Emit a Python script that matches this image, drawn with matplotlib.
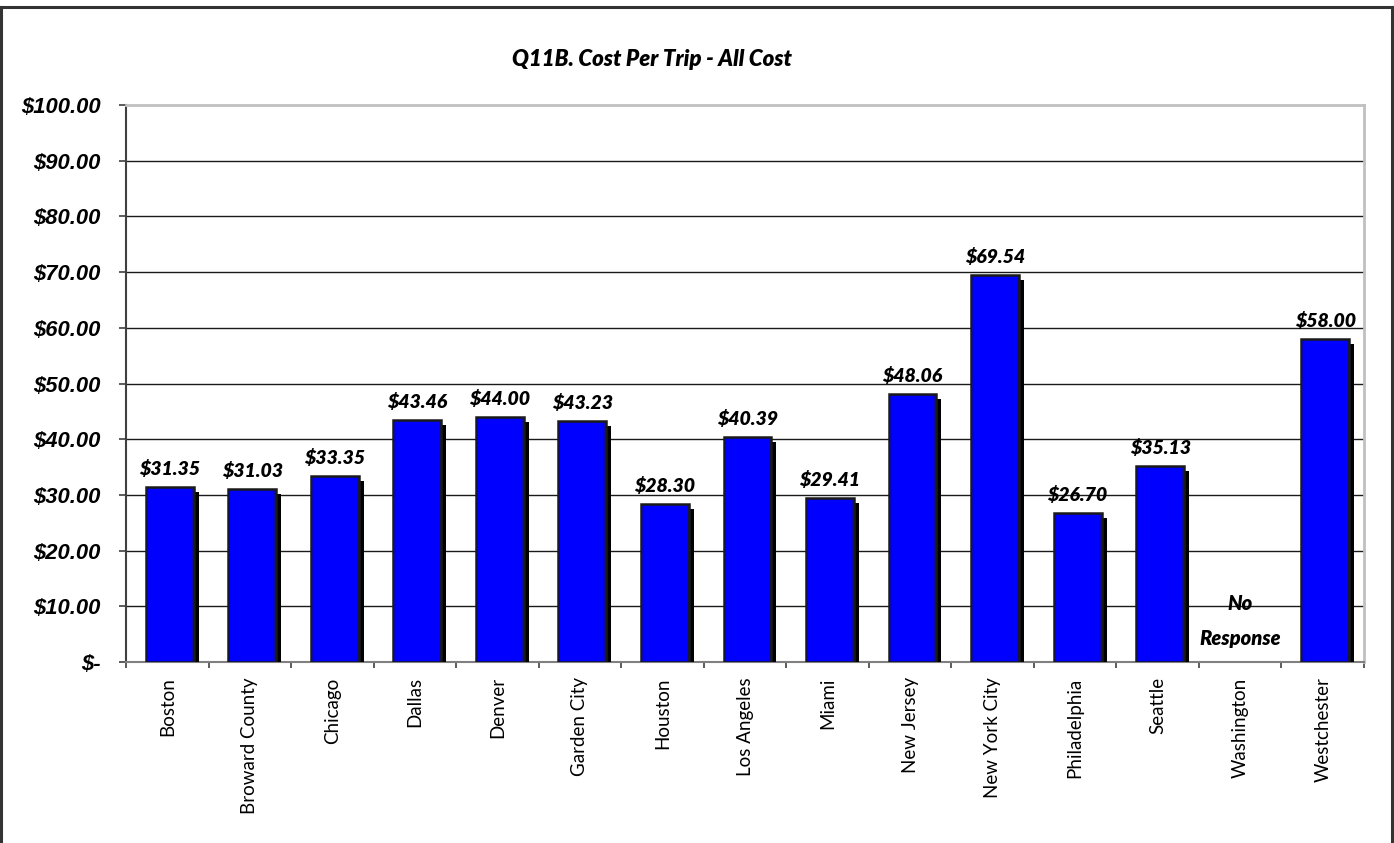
import matplotlib
matplotlib.use("Agg")
import matplotlib.pyplot as plt
import matplotlib.patheffects as pe
from matplotlib.lines import Line2D
import numpy as np

categories = ["Boston", "Broward County", "Chicago", "Dallas", "Denver", "Garden City",
              "Houston", "Los Angeles", "Miami", "New Jersey", "New York City",
              "Philadelphia", "Seattle", "Washington", "Westchester"]
values = [31.35, 31.03, 33.35, 43.46, 44.00, 43.23, 28.30, 40.39, 29.41, 48.06,
          69.54, 26.70, 35.13, None, 58.00]
yticks = [0, 10, 20, 30, 40, 50, 60, 70, 80, 90, 100]
ytick_labels = ["$-", "$10.00", "$20.00", "$30.00", "$40.00", "$50.00", "$60.00",
                "$70.00", "$80.00", "$90.00", "$100.00"]
title = "Q11B. Cost Per Trip - All Cost"
no_resp_text = "No\nResponse"

W, H = 1394, 843
fig = plt.figure(figsize=(W / 100, H / 100), dpi=100)
ax = fig.add_axes([126 / W, 1 - 662 / H, (1364 - 126) / W, (662 - 105) / H])

x = np.arange(len(categories))
for i, v in enumerate(values):
    if v is None:
        ax.text(i, 7.3, no_resp_text, ha="center", va="center", fontsize=14.5,
                fontweight=800, fontstyle="italic", family="Lato", linespacing=2.0)
        continue
    b = ax.bar(i + 0.03, v, width=0.58, color="#0000ff", edgecolor="#1a1a1a",
               linewidth=1.8, zorder=3)
    b[0].set_path_effects([pe.SimplePatchShadow(offset=(3.6, -3.6), shadow_rgbFace="black",
                                                alpha=1.0), pe.Normal()])
    ax.text(i + 0.03, v + 1.6, f"${v:.2f}", ha="center", va="bottom", fontsize=14,
            fontweight=800, fontstyle="italic", family="Lato", zorder=4)

ax.set_xlim(-0.5, len(categories) - 0.5)
ax.set_ylim(0, 100)
ax.set_yticks(yticks)
ax.set_yticklabels(ytick_labels, fontsize=15.8, fontweight="bold", fontstyle="italic",
                   family="Liberation Sans")
ax.set_xticks(x)
ax.set_xticklabels(categories, rotation=90, fontsize=13.5, family="Lato")
ax.tick_params(axis="x", length=0, pad=11)
ax.set_xticks(np.arange(-0.5, len(categories)), minor=True)
ax.tick_params(axis="x", which="minor", length=4.5, width=1.2, color="#404040", direction="out")
ax.tick_params(axis="y", length=5, width=1.2, color="#404040", pad=13.5)

for yv in yticks[1:-1]:
    ax.axhline(yv, color="#1a1a1a", linewidth=1.0, zorder=1)

ax.spines["top"].set_color("#c0c0c0")
ax.spines["top"].set_linewidth(2)
ax.spines["right"].set_color("#c0c0c0")
ax.spines["right"].set_linewidth(2)
ax.spines["left"].set_color("#404040")
ax.spines["left"].set_linewidth(1.5)
ax.spines["bottom"].set_color("#808080")
ax.spines["bottom"].set_linewidth(1.5)

fig.text(652 / W, 1 - 60 / H, title, ha="center", va="center", fontsize=16,
         fontweight=800, fontstyle="italic", family="Lato")

# outer chart border (bottom edge lies outside the image)
bc = "#333333"
fig.add_artist(Line2D([1 / W, 1 / W], [0, 1 - 7 / H], color=bc, lw=2.2, transform=fig.transFigure))
fig.add_artist(Line2D([1 / W, 1392 / W], [1 - 7 / H, 1 - 7 / H], color=bc, lw=2.2, transform=fig.transFigure))
fig.add_artist(Line2D([1392 / W, 1392 / W], [0, 1 - 7 / H], color=bc, lw=2.2, transform=fig.transFigure))

fig.savefig("out.png", dpi=100)
